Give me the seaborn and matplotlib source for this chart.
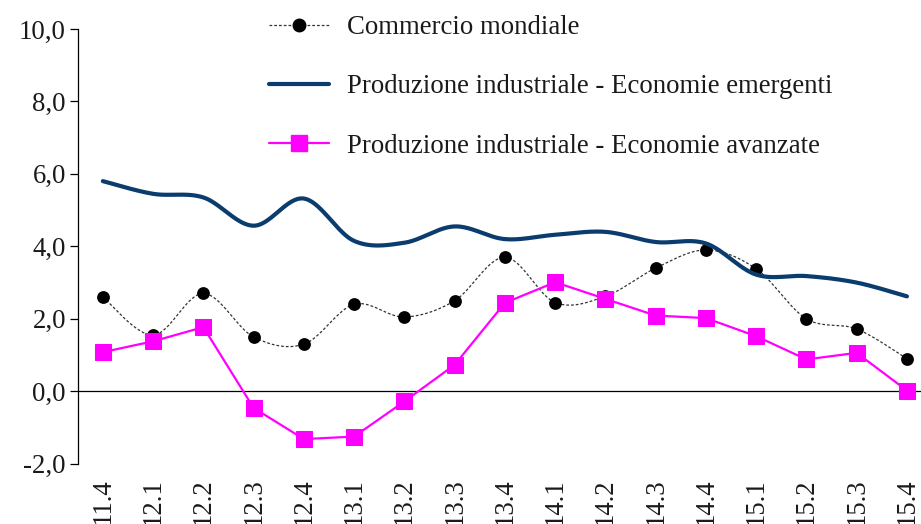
import numpy as np
import matplotlib
matplotlib.use("Agg")
import matplotlib.pyplot as plt
import seaborn as sns
from matplotlib.lines import Line2D
from matplotlib.ticker import FuncFormatter, MultipleLocator

categories = ['11.4', '12.1', '12.2', '12.3', '12.4', '13.1', '13.2', '13.3', '13.4',
              '14.1', '14.2', '14.3', '14.4', '15.1', '15.2', '15.3', '15.4']
commercio = [2.6, 1.55, 2.7, 1.5, 1.3, 2.4, 2.05, 2.5, 3.7, 2.45, 2.62, 3.4, 3.9, 3.38, 2.0, 1.72, 0.9]
emergenti = [5.8, 5.45, 5.35, 4.57, 5.32, 4.15, 4.1, 4.55, 4.2, 4.32, 4.4, 4.12, 4.08, 3.22, 3.18, 3.0, 2.62]
avanzate = [1.08, 1.38, 1.77, -0.46, -1.32, -1.25, -0.28, 0.73, 2.44, 3.01, 2.55, 2.09, 2.02, 1.52, 0.88, 1.06, 0.02]
labels = ['Commercio mondiale',
          'Produzione industriale - Economie emergenti',
          'Produzione industriale - Economie avanzate']

NAVY = '#0b3c6e'
MAGENTA = '#ff00ff'
FS = 19.3


def smooth(xv, yv, n=40):
    """Excel-like smoothed line (Catmull-Rom cubic Bezier) through the points."""
    xv = np.asarray(xv, float)
    yv = np.asarray(yv, float)
    P = np.column_stack([xv, yv])
    out = []
    m = len(P)
    for i in range(m - 1):
        p0 = P[i - 1] if i > 0 else P[i]
        p1 = P[i]
        p2 = P[i + 1]
        p3 = P[i + 2] if i + 2 < m else P[i + 1]
        c1 = p1 + (p2 - p0) / 6.0
        c2 = p2 - (p3 - p1) / 6.0
        t = np.linspace(0, 1, n, endpoint=(i == m - 2))[:, None]
        seg = ((1 - t) ** 3) * p1 + 3 * ((1 - t) ** 2) * t * c1 + 3 * (1 - t) * t ** 2 * c2 + t ** 3 * p2
        out.append(seg)
    out = np.vstack(out)
    return out[:, 0], out[:, 1]


sns.set_style("white")
plt.rcParams['font.family'] = ['Liberation Serif', 'DejaVu Serif']

fig = plt.figure(figsize=(9.21, 5.24), dpi=100)
ax = fig.add_axes([0.0844, 0.115, 0.9156, 0.8297])

x = np.arange(len(categories))

# Commercio mondiale: smoothed thin dashed line with dots
sx, sy = smooth(x, commercio)
sns.lineplot(x=sx, y=sy, ax=ax, color='#333333', lw=0.9, sort=False, estimator=None,
             linestyle=(0, (2.2, 1.6)), zorder=2)
sns.scatterplot(x=x, y=commercio, ax=ax, color='black', marker='o', s=85,
                edgecolor='black', linewidth=0, zorder=2.5)

# Emergenti: smoothed thick navy line
ex, ey = smooth(x, emergenti)
sns.lineplot(x=ex, y=ey, ax=ax, color=NAVY, lw=3.0, sort=False, estimator=None, zorder=3)

# Avanzate: straight magenta line with squares
sns.lineplot(x=x, y=avanzate, ax=ax, color=MAGENTA, lw=1.6, marker='s', markersize=11,
             markeredgecolor=MAGENTA, sort=False, estimator=None, zorder=4)

ax.axhline(0, color='black', lw=0.9, zorder=1)

ax.set_xlim(-0.5, 16.28)
ax.set_ylim(-2, 10)
ax.yaxis.set_major_locator(MultipleLocator(2))
ax.yaxis.set_major_formatter(FuncFormatter(lambda v, p: f"{v:.1f}".replace('.', ',')))
ax.set_xticks(x)
ax.set_xticklabels(categories, rotation=90)

for s in ['top', 'right', 'bottom']:
    ax.spines[s].set_visible(False)
ax.spines['left'].set_color('black')
ax.spines['left'].set_linewidth(0.9)
ax.tick_params(axis='y', which='major', left=True, length=6, width=0.9, color='black',
               labelsize=FS, pad=2.5, labelcolor='#1a1a1a')
ax.tick_params(axis='x', which='major', bottom=False, length=0, labelsize=FS, pad=10.5,
               labelcolor='#1a1a1a')
ax.set_xlabel('')
ax.set_ylabel('')

handles = [
    Line2D([], [], color='#333333', lw=0.9, linestyle=(0, (2.2, 1.6)), marker='o',
           markersize=9, markerfacecolor='black', markeredgecolor='black'),
    Line2D([], [], color=NAVY, lw=3.0),
    Line2D([], [], color=MAGENTA, lw=1.6, marker='s', markersize=11,
           markerfacecolor=MAGENTA, markeredgecolor=MAGENTA),
]
leg = ax.legend(handles, labels, loc='upper left', bbox_to_anchor=(0.2146, 1.057),
                frameon=False, fontsize=FS, handlelength=2.24, handletextpad=0.67,
                labelspacing=1.28, borderaxespad=0)
for t in leg.get_texts():
    t.set_color('#1a1a1a')

fig.savefig('out.png', dpi=100)
